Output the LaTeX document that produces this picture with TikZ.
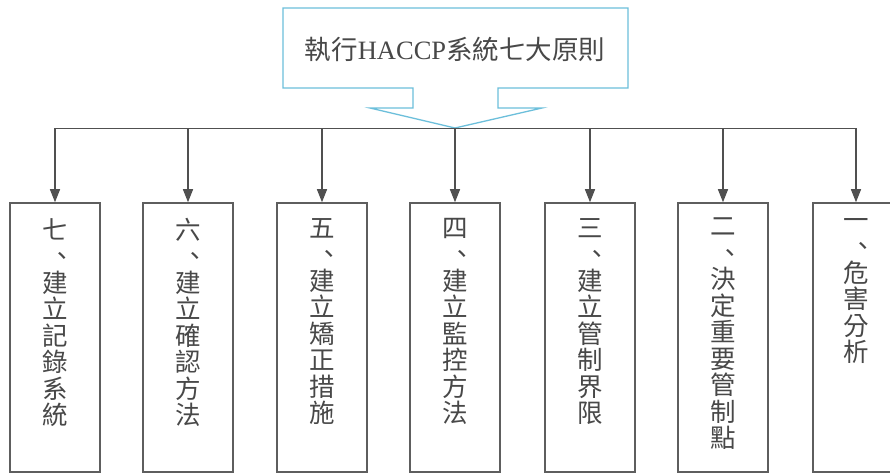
\documentclass[tikz,border=0pt]{standalone}
\usepackage{fontspec}
\setmainfont{Noto Sans CJK TC}
\newfontfamily\latinserif{Liberation Serif}
\usetikzlibrary{arrows.meta}
\definecolor{linegray}{HTML}{505050}
\definecolor{boxgray}{HTML}{5E5E5E}
\definecolor{txtgray}{HTML}{484848}
\definecolor{calloutblue}{HTML}{6CBFDB}
\newcommand\dun{\kern0.28em、\kern-0.28em}
\tikzset{
  stepbox/.style={draw=boxgray, line width=1.5bp, fill=white, minimum width=90bp, minimum height=269bp, inner sep=0pt},
  vtext/.style={align=center, inner sep=0pt, anchor=north, text=txtgray, font=\fontsize{25.5bp}{26.5bp}\selectfont},
  conn/.style={draw=linegray, line width=1.3bp},
  arr/.style={conn, -{Triangle[length=13bp,width=10bp]}},
  callout/.style={draw=calloutblue, line width=1.3bp, fill=white, line join=miter},
}
\begin{document}
\begin{tikzpicture}[x=1bp,y=-1bp]
\useasboundingbox (0,0) rectangle (890,474);
\clip (0,0) rectangle (890,474);
\fill[white] (0,0) rectangle (890,474);

% callout
\draw[callout] (413,88) -- (283,88) -- (283,8) -- (628,8) -- (628,88) -- (498,88)
  -- (498,108) -- (542,108) -- (455,128) -- (370,108) -- (413,108) -- cycle;
\node[text=txtgray, font=\fontsize{26.5bp}{30bp}\selectfont, inner sep=0pt] (title) at (455,49)
  {執行{\latinserif HACCP}系統七大原則};
\coordinate (tip) at (455,128);

% boxes
\node[stepbox] (b7) at (55,337.5) {};
\node[stepbox] (b6) at (188,337.5) {};
\node[stepbox] (b5) at (322,337.5) {};
\node[stepbox] (b4) at (455,337.5) {};
\node[stepbox] (b3) at (590,337.5) {};
\node[stepbox] (b2) at (723,337.5) {};
\node[stepbox] (b1) at (858,337.5) {};

% texts
\node[vtext] (t7) at (55,218) {七\\\dun\\建\\立\\記\\錄\\系\\統};
\node[vtext] (t6) at (188,218) {六\\\dun\\建\\立\\確\\認\\方\\法};
\node[vtext] (t5) at (322,218) {五\\\dun\\建\\立\\矯\\正\\措\\施};
\node[vtext] (t4) at (455,218) {四\\\dun\\建\\立\\監\\控\\方\\法};
\node[vtext] (t3) at (590,218) {三\\\dun\\建\\立\\管\\制\\界\\限};
\node[vtext] (t2) at (723,218) {二\\\dun\\決\\定\\重\\要\\管\\制\\點};
\node[vtext] (t1) at (856,218) {一\\\dun\\危\\害\\分\\析};

% bus
\coordinate (c7) at (55,128.5);
\coordinate (c6) at (188,128.5);
\coordinate (c5) at (322,128.5);
\coordinate (c4) at (455,128.5);
\coordinate (c3) at (590,128.5);
\coordinate (c2) at (723,128.5);
\coordinate (c1) at (856,128.5);
\draw[conn] (c7) -- (c1);
\draw[arr] (c7) -- (b7.north);
\draw[arr] (c6) -- (b6.north);
\draw[arr] (c5) -- (b5.north);
\draw[arr] (c4) -- (b4.north);
\draw[arr] (c3) -- (b3.north);
\draw[arr] (c2) -- (b2.north);
\draw[arr] (c1) -- (c1 |- b1.north);
\end{tikzpicture}
\end{document}
